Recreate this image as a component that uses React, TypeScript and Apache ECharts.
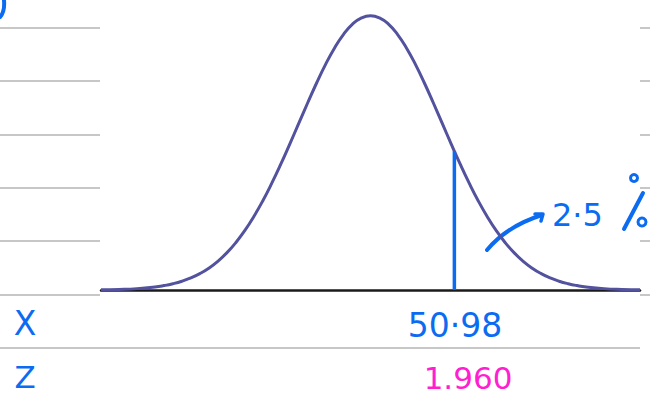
import React, { useEffect, useRef } from "react";
import * as echarts from "echarts";

// Standard-normal curve (z, density)
const curveZ = [-3.75, -3.5, -3.25, -3, -2.875, -2.75, -2.625, -2.5, -2.375, -2.25, -2.125, -2, -1.875, -1.75, -1.625, -1.5, -1.375, -1.25, -1.125, -1,
  -0.875, -0.75, -0.625, -0.5, -0.375, -0.25, -0.125, 0, 0.125, 0.25, 0.375, 0.5, 0.625, 0.75, 0.875,
  1, 1.125, 1.25, 1.375, 1.5, 1.625, 1.75, 1.875, 2, 2.125, 2.25, 2.375, 2.5, 2.625, 2.75, 2.875, 3, 3.25, 3.5, 3.75];
const curveDensity = [0.0004, 0.0009, 0.002, 0.0044, 0.0064, 0.0091, 0.0127, 0.0175, 0.0238, 0.0317, 0.0417, 0.054, 0.0688, 0.0863, 0.1066, 0.1295, 0.155, 0.1826, 0.2119, 0.242,
  0.272, 0.3011, 0.3282, 0.3521, 0.3719, 0.3867, 0.3958, 0.3989, 0.3958, 0.3867, 0.3719, 0.3521, 0.3282, 0.3011, 0.272,
  0.242, 0.2119, 0.1826, 0.155, 0.1295, 0.1066, 0.0863, 0.0688, 0.054, 0.0417, 0.0317, 0.0238, 0.0175, 0.0127, 0.0091, 0.0064, 0.0044, 0.002, 0.0009, 0.0004];

// Cut-off line drawn on the curve
const cutoffZ = [1.167, 1.167];
const cutoffDensity = [0, 0.2019];

// Handwritten annotations
const rowLabels = ["X", "Z"];
const xValueLabel = "50·98";
const zValueLabel = "1.960";
const tailLabel = "2·5";

const BLUE = "#0b6cf2";
const PINK = "#ff1fd0";
const RULE = "#b4b4b4";
const FONT = "'DejaVu Sans', sans-serif";

export default function App() {
  const ref = useRef<HTMLDivElement>(null);
  useEffect(() => {
    if (!ref.current) return;
    const chart = echarts.init(ref.current, undefined, { renderer: "svg" });
    const ruleYs = [28, 81, 135, 188, 241, 295];
    const graphics: any[] = [];
    ruleYs.forEach((y) => {
      graphics.push({ type: "line", shape: { x1: 0, y1: y, x2: 100, y2: y }, style: { stroke: RULE, lineWidth: 1.5 }, z: 0 });
      graphics.push({ type: "line", shape: { x1: 640, y1: y, x2: 650, y2: y }, style: { stroke: RULE, lineWidth: 1.5 }, z: 0 });
    });
    graphics.push({ type: "line", shape: { x1: 0, y1: 348, x2: 640, y2: 348 }, style: { stroke: RULE, lineWidth: 1.5 } });
    // top-left stroke
    graphics.push({ type: "bezierCurve", shape: { x1: 4, y1: 0, x2: 0, y2: 17, cpx1: 5, cpy1: 12 }, style: { stroke: BLUE, lineWidth: 4, fill: null, lineCap: "round" } });
    // row labels
    graphics.push({ type: "text", x: 25, y: 323, style: { text: rowLabels[0], fill: BLUE, font: `33px ${FONT}`, textAlign: "center", textVerticalAlign: "middle" } });
    graphics.push({ type: "text", x: 25, y: 377, style: { text: rowLabels[1], fill: BLUE, font: `31px ${FONT}`, textAlign: "center", textVerticalAlign: "middle" } });
    graphics.push({ type: "text", x: 455, y: 325, style: { text: xValueLabel, fill: BLUE, font: `33px ${FONT}`, textAlign: "center", textVerticalAlign: "middle" } });
    graphics.push({ type: "text", x: 468, y: 378, style: { text: zValueLabel, fill: PINK, font: `31px ${FONT}`, textAlign: "center", textVerticalAlign: "middle" } });
    // 2.5 % with arrow
    graphics.push({ type: "text", x: 552, y: 215, style: { text: tailLabel, fill: BLUE, font: `32px ${FONT}`, textAlign: "left", textVerticalAlign: "middle" } });
    graphics.push({ type: "circle", shape: { cx: 634, cy: 178, r: 3.5 }, style: { stroke: BLUE, lineWidth: 3, fill: null } });
    graphics.push({ type: "line", shape: { x1: 643, y1: 193, x2: 624, y2: 229 }, style: { stroke: BLUE, lineWidth: 4, lineCap: "round" } });
    graphics.push({ type: "circle", shape: { cx: 642, cy: 222, r: 4 }, style: { stroke: BLUE, lineWidth: 3, fill: null } });
    graphics.push({ type: "bezierCurve", shape: { x1: 487, y1: 250, x2: 542, y2: 215, cpx1: 507, cpy1: 226 }, style: { stroke: BLUE, lineWidth: 4, fill: null, lineCap: "round" } });
    graphics.push({ type: "polyline", shape: { points: [[535, 214], [543, 214], [541, 221]] }, style: { stroke: BLUE, lineWidth: 3.5, fill: null, lineCap: "round", lineJoin: "round" } });

    chart.setOption({
      animation: false,
      grid: { left: 101, right: 10, top: 15, bottom: 107 },
      xAxis: {
        type: "value",
        min: -3.75,
        max: 3.75,
        axisLine: { show: true, onZero: false, lineStyle: { color: "#1a1a1a", width: 2.5 } },
        axisTick: { show: false },
        axisLabel: { show: false },
        splitLine: { show: false },
      },
      yAxis: {
        type: "value",
        min: 0,
        max: 0.4,
        show: false,
        splitLine: { show: false },
      },
      series: [
        {
          type: "line",
          data: curveZ.map((z, i) => [z, curveDensity[i]]),
          smooth: true,
          showSymbol: false,
          lineStyle: { color: "#52529e", width: 3 },
          z: 3,
        },
        {
          type: "line",
          data: cutoffZ.map((z, i) => [z, cutoffDensity[i]]),
          showSymbol: false,
          lineStyle: { color: BLUE, width: 3.5 },
          z: 4,
        },
      ],
      graphic: graphics,
    });
    return () => chart.dispose();
  }, []);
  return <div ref={ref} style={{ width: 650, height: 397, position: "absolute", left: 0, top: 0 }} />;
}
